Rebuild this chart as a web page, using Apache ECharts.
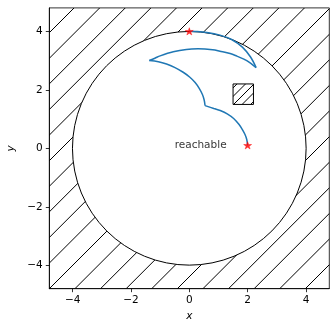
<!DOCTYPE html>
<html>
<head>
<meta charset="utf-8">
<script src="https://cdn.jsdelivr.net/npm/echarts/dist/echarts.min.js"></script>
<style>
  html, body { margin: 0; padding: 0; background: #fff; }
  #chart { width: 330px; height: 322px; }
</style>
</head>
<body>
<div id="chart"></div>
<script>
// Axis extents and tick positions
const xRange = [-4.8, 4.8];
const yRange = [-4.8, 4.8];
const xTicks = [-4, -2, 0, 2, 4];
const yTicks = [-4, -2, 0, 2, 4];

// Workspace boundary: centre x, centre y, radius
const boundary = [[0, 0, 4]];
// Obstacle box: x0, y0, x1, y1
const obstacle = [[1.5, 1.5, 2.2, 2.2]];

// Planned path, split at the direction reversals (cusps)
const seg1 = [[2.0, 0.1], [1.97, 0.3], [1.91, 0.47], [1.82, 0.64], [1.7, 0.82], [1.52, 1.02], [1.3, 1.18],
              [1.06, 1.29], [0.84, 1.36], [0.54, 1.46]];
const seg2 = [[0.54, 1.46], [0.51, 1.65], [0.45, 1.84], [0.34, 2.05], [0.2, 2.25], [0.02, 2.43],
              [-0.21, 2.6], [-0.49, 2.76], [-0.78, 2.88], [-1.06, 2.96], [-1.37, 3.0]];
const seg3 = [[-1.37, 3.0], [-1.18, 3.08], [-1.0, 3.16], [-0.55, 3.3], [-0.1, 3.38], [0.3, 3.4],
              [0.8, 3.37], [1.05, 3.32], [1.4, 3.24], [1.63, 3.15], [1.97, 3.0], [2.29, 2.76]];
const seg4 = [[2.29, 2.76], [2.1, 3.12], [1.82, 3.46], [1.45, 3.72], [1.05, 3.87], [0.6, 3.96],
              [0.2, 3.995], [0.0, 4.0]];

// Start and goal poses
const endpoints = [[2.0, 0.1], [0.0, 4.0]];
// Region annotation
const regionLabel = [[-0.5, 0, 'reachable']];

const FONT = 'DejaVu Sans';
const BLUE = '#1f77b4';

// Diagonal "/" hatch tile, anchored to the canvas origin
function makeHatch(spacing, phase) {
  const size = 128;
  const c = document.createElement('canvas');
  c.width = size; c.height = size;
  const g = c.getContext('2d');
  g.strokeStyle = '#000';
  g.lineWidth = 1;
  for (let k = phase - 2 * spacing; k < 2 * size + 2 * spacing; k += spacing) {
    g.beginPath();
    g.moveTo(k + 10, -10);
    g.lineTo(-10, k + 10);
    g.stroke();
  }
  return c;
}
const hatchWide = { image: makeHatch(25.6, 5.2), repeat: 'repeat' };
const hatchDense = { image: makeHatch(25.6 / 3, 5.2), repeat: 'repeat' };

const STAR = 'path://M0,-1L0.2245,-0.309L0.9511,-0.309L0.3633,0.118L0.5878,0.809L0,0.382L-0.5878,0.809L-0.3633,0.118L-0.9511,-0.309L-0.2245,-0.309Z';

const minus = v => String(v).replace('-', '\u2212');

const chart = echarts.init(document.getElementById('chart'), null, { renderer: 'canvas' });

function pathSeries(data) {
  return {
    type: 'line', data, showSymbol: false, smooth: 0.35, z: 4,
    lineStyle: { color: BLUE, width: 1.5 }, silent: true
  };
}

chart.setOption({
  animation: false,
  backgroundColor: '#fff',
  grid: { left: 49.3, top: 7.9, right: 0.7, bottom: 33.3, containLabel: false, outerBoundsMode: 'none' },
  xAxis: {
    type: 'value', min: xRange[0], max: xRange[1],
    name: 'x', nameLocation: 'middle', nameGap: 18,
    nameTextStyle: { fontFamily: FONT, fontStyle: 'italic', fontSize: 10.5, color: '#000' },
    splitLine: { show: false },
    axisLine: { show: true, onZero: false, lineStyle: { color: '#000', width: 0.8 } },
    axisTick: { show: true, length: 3.5, customValues: xTicks, lineStyle: { color: '#000', width: 0.8 } },
    axisLabel: { customValues: xTicks, margin: 6.5, fontFamily: FONT, fontSize: 10.5, color: '#000', formatter: minus }
  },
  yAxis: {
    type: 'value', min: yRange[0], max: yRange[1],
    name: 'y', nameLocation: 'middle', nameGap: 26, nameRotate: 90,
    nameTextStyle: { fontFamily: FONT, fontStyle: 'italic', fontSize: 10.5, color: '#000' },
    splitLine: { show: false },
    axisLine: { show: true, onZero: false, lineStyle: { color: '#000', width: 0.8 } },
    axisTick: { show: true, length: 3.5, customValues: yTicks, lineStyle: { color: '#000', width: 0.8 } },
    axisLabel: { customValues: yTicks, margin: 6.5, fontFamily: FONT, fontSize: 10.5, color: '#000', formatter: minus }
  },
  series: [
    {
      // hatched unreachable area with the circular workspace cut out
      type: 'custom', data: boundary, z: 1, silent: true, clip: true,
      renderItem(params, api) {
        const cs = params.coordSys;
        const c = api.coord([api.value(0), api.value(1)]);
        const r = api.size([api.value(2), api.value(2)]);
        return {
          type: 'group',
          children: [
            { type: 'rect', shape: { x: cs.x, y: cs.y, width: cs.width, height: cs.height },
              style: { fill: hatchWide, stroke: null } },
            { type: 'circle', shape: { cx: c[0], cy: c[1], r: (r[0] + r[1]) / 2 },
              style: { fill: '#fff', stroke: '#000', lineWidth: 1 } }
          ]
        };
      }
    },
    {
      // obstacle
      type: 'custom', data: obstacle, z: 2, silent: true,
      renderItem(params, api) {
        const p0 = api.coord([api.value(0), api.value(3)]);
        const p1 = api.coord([api.value(2), api.value(1)]);
        return {
          type: 'rect',
          shape: { x: p0[0], y: p0[1], width: p1[0] - p0[0], height: p1[1] - p0[1] },
          style: { fill: hatchDense, stroke: '#000', lineWidth: 1 }
        };
      }
    },
    pathSeries(seg1),
    pathSeries(seg2),
    pathSeries(seg3),
    pathSeries(seg4),
    {
      type: 'scatter', data: endpoints, z: 6, silent: true,
      symbol: STAR, symbolKeepAspect: true, symbolSize: [8, 7.6],
      itemStyle: { color: 'red', borderColor: 'red', borderWidth: 0.5 }
    },
    {
      type: 'scatter', data: regionLabel, z: 6, silent: true, symbolSize: 0,
      label: {
        show: true, position: [0, 0], align: 'left', verticalAlign: 'bottom', offset: [0, 2.5],
        formatter: p => p.value[2], fontFamily: FONT, fontSize: 10.5, color: '#000'
      }
    },
    {
      // axes frame
      type: 'custom', data: [0], z: 10, silent: true, clip: false,
      renderItem(params) {
        const cs = params.coordSys;
        return { type: 'rect', shape: { x: cs.x, y: cs.y, width: cs.width, height: cs.height },
                 style: { fill: null, stroke: '#000', lineWidth: 0.8 } };
      }
    }
  ]
});
</script>
</body>
</html>
